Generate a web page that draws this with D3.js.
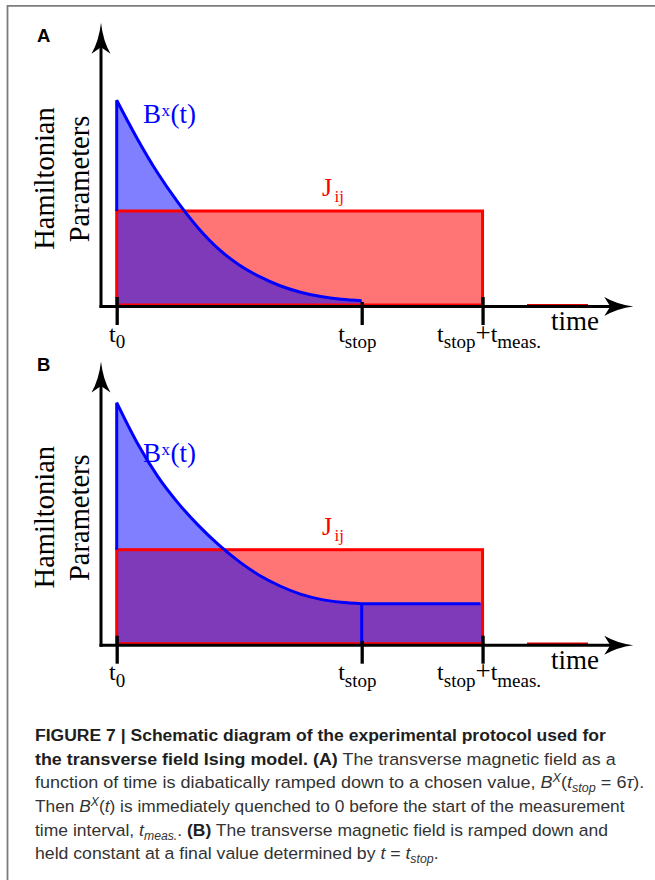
<!DOCTYPE html>
<html><head><meta charset="utf-8">
<script src="https://cdn.jsdelivr.net/npm/d3@7"></script>
<style>html,body{margin:0;padding:0;background:#fff;} svg{display:block;} text{white-space:pre;}</style>
</head><body>
<svg id="c" width="655" height="880"></svg>
<script>
// ---------------- data ----------------
const panelNames = ["A", "B"];
const curveT  = [0, 0.5, 1, 1.5, 2, 2.5, 3, 3.5, 4, 4.5, 5, 5.5, 6];
const bFieldA = [2.16, 1.76, 1.40, 1.09, 0.82, 0.60, 0.435, 0.312, 0.217, 0.15, 0.104, 0.076, 0.061];
const bFieldB = [2.54, 2.12, 1.77, 1.49, 1.255, 1.05, 0.875, 0.73, 0.62, 0.535, 0.48, 0.45, 0.435];
const holdB = 0.435;          // B^x held constant after t_stop (panel B)
const jValue = 1;             // J_ij level
const tStart = 0, tStop = 6, tEnd = 8.96;
const tickValues = [tStart, tStop, tEnd];
const tickLabels = [
  [["t", ""], ["0", "sub"]],
  [["t", ""], ["stop", "sub"]],
  [["t", ""], ["stop", "sub"], ["+", "plus"], ["t", ""], ["meas.", "sub"]]
];
const yLabelLines = ["Hamiltonian", "Parameters"];
const xLabel = "time";
const captionLines = [
  [["FIGURE 7 | Schematic diagram of the experimental protocol used for", "b"]],
  [["the transverse field Ising model. (A)", "b"], [" The transverse magnetic field as a", "n"]],
  [["function of time is diabatically ramped down to a chosen value, ", "n"], ["B", "i"], ["X", "isup"], ["(", "n"], ["t", "i"], ["stop", "isub"], [" = 6", "n"], ["τ", "i"], [").", "n"]],
  [["Then ", "n"], ["B", "i"], ["X", "isup"], ["(", "n"], ["t", "i"], [")", "n"], [" is immediately quenched to 0 before the start of the measurement", "n"]],
  [["time interval, ", "n"], ["t", "i"], ["meas.", "isub"], [". ", "n"], ["(B)", "b"], [" The transverse magnetic field is ramped down and", "n"]],
  [["held constant at a final value determined by ", "n"], ["t", "i"], [" = ", "n"], ["t", "i"], ["stop", "isub"], [".", "n"]]
];

// ---------------- layout ----------------
const panelOffsetY = [0, 338.7];
const panelLetterY = [41.5, 370.5];
const tickLabelDx = [-7.7, -23.5, -45.5];
const captionBaselines = [741, 764.7, 788.3, 812, 835.7, 859.3];
const captionRight = [606, 616, 644, 625, 608, null];   // last line keeps natural width
const captionLeft = 35;
const serif = "'Liberation Serif','Times New Roman',serif";
const sans = "'Liberation Sans',Arial,Helvetica,sans-serif";

const svg = d3.select("#c");

// outer frame (top and left only visible)
svg.append("path").attr("d", "M7.5,880 L7.5,5.8 L655,5.8")
  .attr("fill", "none").attr("stroke", "#7d7d7d").attr("stroke-width", 1.8);

const x = d3.scaleLinear().domain([0, 6]).range([116.7, 361.7]);
const y = d3.scaleLinear().domain([0, 1]).range([306.5, 211]);

const axisX = 101, axisTopY = 22.7, axisRightX = 633.3;

panelNames.forEach((name, pi) => {
  const g = svg.append("g").attr("transform", `translate(0,${panelOffsetY[pi]})`);
  const vals = pi === 0 ? bFieldA : bFieldB;
  const pts = curveT.map((t, i) => ({t, v: vals[i]}));
  const areaPts = pi === 1 ? pts.concat([{t: tEnd, v: holdB}]) : pts.slice();

  // J rectangle fill
  g.append("rect")
    .attr("x", x(tStart)).attr("y", y(jValue))
    .attr("width", x(tEnd) - x(tStart)).attr("height", y(0) - 1.5 - y(jValue))
    .attr("fill", "rgba(255,0,0,0.54)");

  // B area fill
  const area = d3.area().x(d => x(d.t)).y0(y(0)).y1(d => y(d.v)).curve(d3.curveMonotoneX);
  g.append("path").attr("d", area(areaPts)).attr("fill", "rgba(0,0,255,0.5)");

  // J rectangle stroke
  g.append("rect")
    .attr("x", x(tStart)).attr("y", y(jValue))
    .attr("width", x(tEnd) - x(tStart)).attr("height", y(0) - 1.5 - y(jValue))
    .attr("fill", "none").attr("stroke", "#ff0000").attr("stroke-width", 3);

  // B curve stroke
  const line = d3.line().x(d => x(d.t)).y(d => y(d.v)).curve(d3.curveMonotoneX);
  let dStr = `M${x(tStart)},${y(jValue)}` + line(pts).replace(/^M/, "L");
  if (pi === 1) {
    dStr += `L${x(tEnd) - 2},${y(holdB)}`;
    dStr += `M${x(tStop)},${y(holdB)}L${x(tStop)},${y(0) - 1}`;
  }
  g.append("path").attr("d", dStr).attr("fill", "none")
    .attr("stroke", "#0000ff").attr("stroke-width", 3).attr("stroke-linejoin", "miter");

  // small red segment on the time axis
  g.append("line").attr("x1", 527).attr("x2", 588).attr("y1", y(0) - 1.8).attr("y2", y(0) - 1.8)
    .attr("stroke", "#e00000").attr("stroke-width", 1.6);

  // axes
  g.append("line").attr("x1", axisX).attr("x2", axisX).attr("y1", y(0) + 1.5).attr("y2", axisTopY + 24)
    .attr("stroke", "#000").attr("stroke-width", 3);
  g.append("path")
    .attr("d", `M${axisX},${axisTopY} Q${axisX + 2},${axisTopY + 18} ${axisX + 9.5},${axisTopY + 31} L${axisX},${axisTopY + 24.5} L${axisX - 9.5},${axisTopY + 31} Q${axisX - 2},${axisTopY + 18} ${axisX},${axisTopY} Z`)
    .attr("fill", "#000");
  g.append("line").attr("x1", axisX - 1.5).attr("x2", axisRightX - 22).attr("y1", y(0)).attr("y2", y(0))
    .attr("stroke", "#000").attr("stroke-width", 3);
  g.append("path")
    .attr("d", `M${axisRightX},${y(0)} Q${axisRightX - 16},${y(0) - 2} ${axisRightX - 29},${y(0) - 9.5} L${axisRightX - 23},${y(0)} L${axisRightX - 29},${y(0) + 9.5} Q${axisRightX - 16},${y(0) + 2} ${axisRightX},${y(0)} Z`)
    .attr("fill", "#000");

  // ticks via d3 axis
  const ax = g.append("g").attr("transform", `translate(0,${y(0)})`)
    .call(d3.axisBottom(x).tickValues(tickValues).tickSizeInner(18.5).tickSizeOuter(0).tickFormat(""));
  ax.select(".domain").remove();
  ax.selectAll(".tick line").attr("stroke", "#000").attr("stroke-width", 3.3)
    .attr("y1", (d) => d === tStop ? -4.5 : -9.5);

  // tick labels
  tickLabels.forEach((segs, i) => {
    const t = g.append("text").attr("x", x(tickValues[i]) + tickLabelDx[i]).attr("y", y(0) + 35)
      .attr("font-family", serif).attr("font-size", 24).attr("fill", "#000");
    let shift = 0;
    segs.forEach(([s, kind]) => {
      const target = kind === "sub" ? 6.5 : 0;
      t.append("tspan").attr("dy", target - shift)
        .attr("font-size", kind === "sub" ? 19 : kind === "plus" ? 27 : 24).text(s);
      shift = target;
    });
  });

  // time label
  g.append("text").attr("x", 551).attr("y", 330).attr("font-family", serif).attr("font-size", 27)
    .attr("fill", "#000").text(xLabel);

  // y label
  g.append("text").attr("transform", "translate(54,178.5) rotate(-90)").attr("text-anchor", "middle")
    .attr("font-family", serif).attr("font-size", 28.5).attr("fill", "#000").text(yLabelLines[0]);
  g.append("text").attr("transform", "translate(89,179) rotate(-90)").attr("text-anchor", "middle")
    .attr("font-family", serif).attr("font-size", 28.5).attr("fill", "#000").text(yLabelLines[1]);

  // B^x(t) label
  const bl = g.append("text").attr("y", 123).attr("font-family", serif).attr("fill", "#0000ff");
  bl.append("tspan").attr("x", 143).attr("font-size", 27).text("B");
  bl.append("tspan").attr("x", 161.5).attr("dy", -7).attr("font-size", 17).text("x");
  bl.append("tspan").attr("x", 170.5).attr("dy", 7).attr("font-size", 27).text("(t)");

  // J_ij label
  const jl = g.append("text").attr("y", 196).attr("font-family", serif).attr("fill", "#ff0000");
  jl.append("tspan").attr("x", 322).attr("font-size", 26).text("J");
  jl.append("tspan").attr("x", 334.5).attr("dy", 6).attr("font-size", 17).text("ij");

  // panel letter
  svg.append("text").attr("x", 37).attr("y", panelLetterY[pi]).attr("font-family", sans)
    .attr("font-weight", "bold").attr("font-size", 18.5).attr("fill", "#000").text(name);
});

// caption
const capNodes = captionLines.map((segs) => {
  const t = svg.append("text").attr("x", 0).attr("y", 0)
    .attr("font-family", sans).attr("font-size", 17.2).attr("fill", "#333");
  let shift = 0;
  segs.forEach(([s, kind]) => {
    const target = kind === "isup" ? -6 : kind === "isub" ? 4 : 0;
    const ts = t.append("tspan").attr("dy", target - shift).text(s);
    if (kind === "b") ts.attr("font-weight", "bold").attr("fill", "#1e1e1e");
    if (kind.startsWith("i")) ts.attr("font-style", "italic");
    if (kind === "isup" || kind === "isub") ts.attr("font-size", 12);
    shift = target;
  });
  return t;
});
const scales = capNodes.map((t, li) => {
  if (captionRight[li] == null) return null;
  const bb = t.node().getBBox();
  return (captionRight[li] - captionLeft) / (bb.width + bb.x);
});
const fitted = scales.filter(s => s != null);
const meanScale = d3.mean(fitted);
capNodes.forEach((t, li) => {
  const sx = scales[li] == null ? meanScale : scales[li];
  t.attr("transform", `translate(${captionLeft},${captionBaselines[li]}) scale(${sx},1)`);
});
</script>
</body></html>
